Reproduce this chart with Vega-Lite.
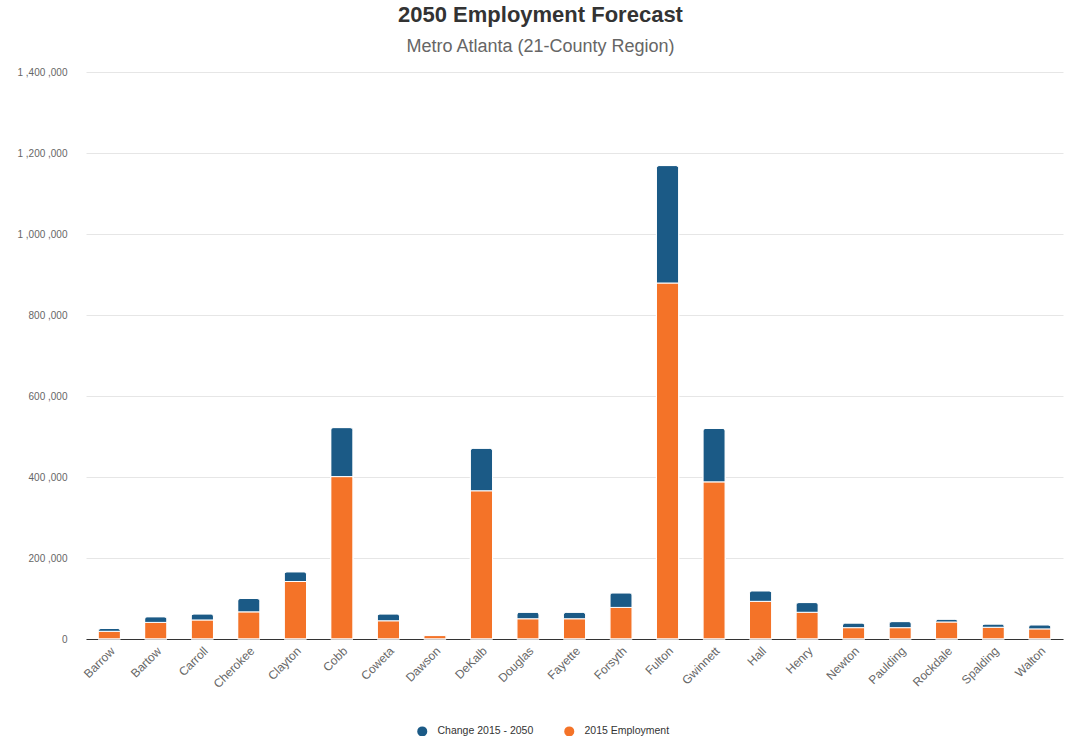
{
  "$schema": "https://vega.github.io/schema/vega-lite/v6.json",
  "width": 977,
  "height": 567,
  "autosize": "none",
  "padding": {"left": 86, "top": 72, "right": 2, "bottom": 97},
  "background": "white",
  "config": {"view": {"stroke": null}, "font": "Liberation Sans"},
  "title": {
    "text": "2050 Employment Forecast",
    "subtitle": "Metro Atlanta (21-County Region)",
    "anchor": "middle",
    "dx": -34,
    "font": "Liberation Sans",
    "fontSize": 22,
    "fontWeight": "bold",
    "color": "#333333",
    "subtitleFont": "Liberation Sans",
    "subtitleFontSize": 18,
    "subtitleColor": "#666666",
    "subtitlePadding": 11,
    "offset": 10
  },
  "data": {
    "values": [
      {"county": "Barrow", "series": "2015 Employment", "value": 19000},
      {"county": "Barrow", "series": "Change 2015 - 2050", "value": 7000},
      {"county": "Bartow", "series": "2015 Employment", "value": 41000},
      {"county": "Bartow", "series": "Change 2015 - 2050", "value": 14000},
      {"county": "Carroll", "series": "2015 Employment", "value": 47000},
      {"county": "Carroll", "series": "Change 2015 - 2050", "value": 15000},
      {"county": "Cherokee", "series": "2015 Employment", "value": 67000},
      {"county": "Cherokee", "series": "Change 2015 - 2050", "value": 33000},
      {"county": "Clayton", "series": "2015 Employment", "value": 142000},
      {"county": "Clayton", "series": "Change 2015 - 2050", "value": 24000},
      {"county": "Cobb", "series": "2015 Employment", "value": 401000},
      {"county": "Cobb", "series": "Change 2015 - 2050", "value": 121000},
      {"county": "Coweta", "series": "2015 Employment", "value": 45000},
      {"county": "Coweta", "series": "Change 2015 - 2050", "value": 17000},
      {"county": "Dawson", "series": "2015 Employment", "value": 8500},
      {"county": "Dawson", "series": "Change 2015 - 2050", "value": 800},
      {"county": "DeKalb", "series": "2015 Employment", "value": 366000},
      {"county": "DeKalb", "series": "Change 2015 - 2050", "value": 105000},
      {"county": "Douglas", "series": "2015 Employment", "value": 50000},
      {"county": "Douglas", "series": "Change 2015 - 2050", "value": 16000},
      {"county": "Fayette", "series": "2015 Employment", "value": 50000},
      {"county": "Fayette", "series": "Change 2015 - 2050", "value": 16000},
      {"county": "Forsyth", "series": "2015 Employment", "value": 78000},
      {"county": "Forsyth", "series": "Change 2015 - 2050", "value": 36000},
      {"county": "Fulton", "series": "2015 Employment", "value": 879000},
      {"county": "Fulton", "series": "Change 2015 - 2050", "value": 290000},
      {"county": "Gwinnett", "series": "2015 Employment", "value": 388000},
      {"county": "Gwinnett", "series": "Change 2015 - 2050", "value": 132000},
      {"county": "Hall", "series": "2015 Employment", "value": 93000},
      {"county": "Hall", "series": "Change 2015 - 2050", "value": 26000},
      {"county": "Henry", "series": "2015 Employment", "value": 66000},
      {"county": "Henry", "series": "Change 2015 - 2050", "value": 24000},
      {"county": "Newton", "series": "2015 Employment", "value": 28000},
      {"county": "Newton", "series": "Change 2015 - 2050", "value": 11500},
      {"county": "Paulding", "series": "2015 Employment", "value": 28000},
      {"county": "Paulding", "series": "Change 2015 - 2050", "value": 15000},
      {"county": "Rockdale", "series": "2015 Employment", "value": 42000},
      {"county": "Rockdale", "series": "Change 2015 - 2050", "value": 7000},
      {"county": "Spalding", "series": "2015 Employment", "value": 29000},
      {"county": "Spalding", "series": "Change 2015 - 2050", "value": 8000},
      {"county": "Walton", "series": "2015 Employment", "value": 25000},
      {"county": "Walton", "series": "Change 2015 - 2050", "value": 10000}
    ]
  },
  "encoding": {
    "x": {
      "field": "county",
      "type": "nominal",
      "sort": null,
      "scale": {"paddingInner": 0.52, "paddingOuter": 0.26},
      "axis": {
        "title": null,
        "domain": true,
        "domainColor": "#333333",
        "domainWidth": 1,
        "ticks": false,
        "grid": false,
        "labelAngle": -45,
        "labelAlign": "right",
        "labelBaseline": "top",
        "labelFont": "Liberation Sans",
        "labelFontSize": 12,
        "labelColor": "#666666",
        "labelPadding": 6
      }
    },
    "y": {
      "field": "value",
      "type": "quantitative",
      "stack": "zero",
      "scale": {"domain": [0, 1400000], "nice": false},
      "axis": {
        "title": null,
        "domain": false,
        "ticks": false,
        "grid": true,
        "gridColor": "#e6e6e6",
        "values": [0, 200000, 400000, 600000, 800000, 1000000, 1200000, 1400000],
        "labelExpr": "replace(format(datum.value, ','), regexp(',', 'g'), ' ,')",
        "labelFont": "Liberation Sans",
        "labelFontSize": 10,
        "labelColor": "#666666",
        "labelPadding": 19
      }
    },
    "color": {
      "field": "series",
      "type": "nominal",
      "scale": {
        "domain": ["Change 2015 - 2050", "2015 Employment"],
        "range": ["#1b5a86", "#f47328"]
      },
      "legend": {
        "title": null,
        "orient": "none",
        "legendX": 331,
        "legendY": 654,
        "direction": "horizontal",
        "symbolType": "circle",
        "symbolSize": 100,
        "symbolStrokeWidth": 0,
        "labelFont": "Liberation Sans",
        "labelFontSize": 10.5,
        "labelColor": "#333333",
        "labelOffset": 10,
        "columnPadding": 30
      }
    },
    "order": {"field": "series", "sort": "ascending"}
  },
  "layer": [
    {
      "mark": {"type": "bar", "stroke": "white", "strokeWidth": 1},
      "encoding": {
        "opacity": {"condition": {"test": "datum.series === '2015 Employment'", "value": 1}, "value": 0}
      }
    },
    {
      "mark": {"type": "bar", "stroke": "white", "strokeWidth": 1, "cornerRadiusTopLeft": 3, "cornerRadiusTopRight": 3},
      "encoding": {
        "opacity": {"condition": {"test": "datum.series === 'Change 2015 - 2050'", "value": 1}, "value": 0}
      }
    }
  ]
}
